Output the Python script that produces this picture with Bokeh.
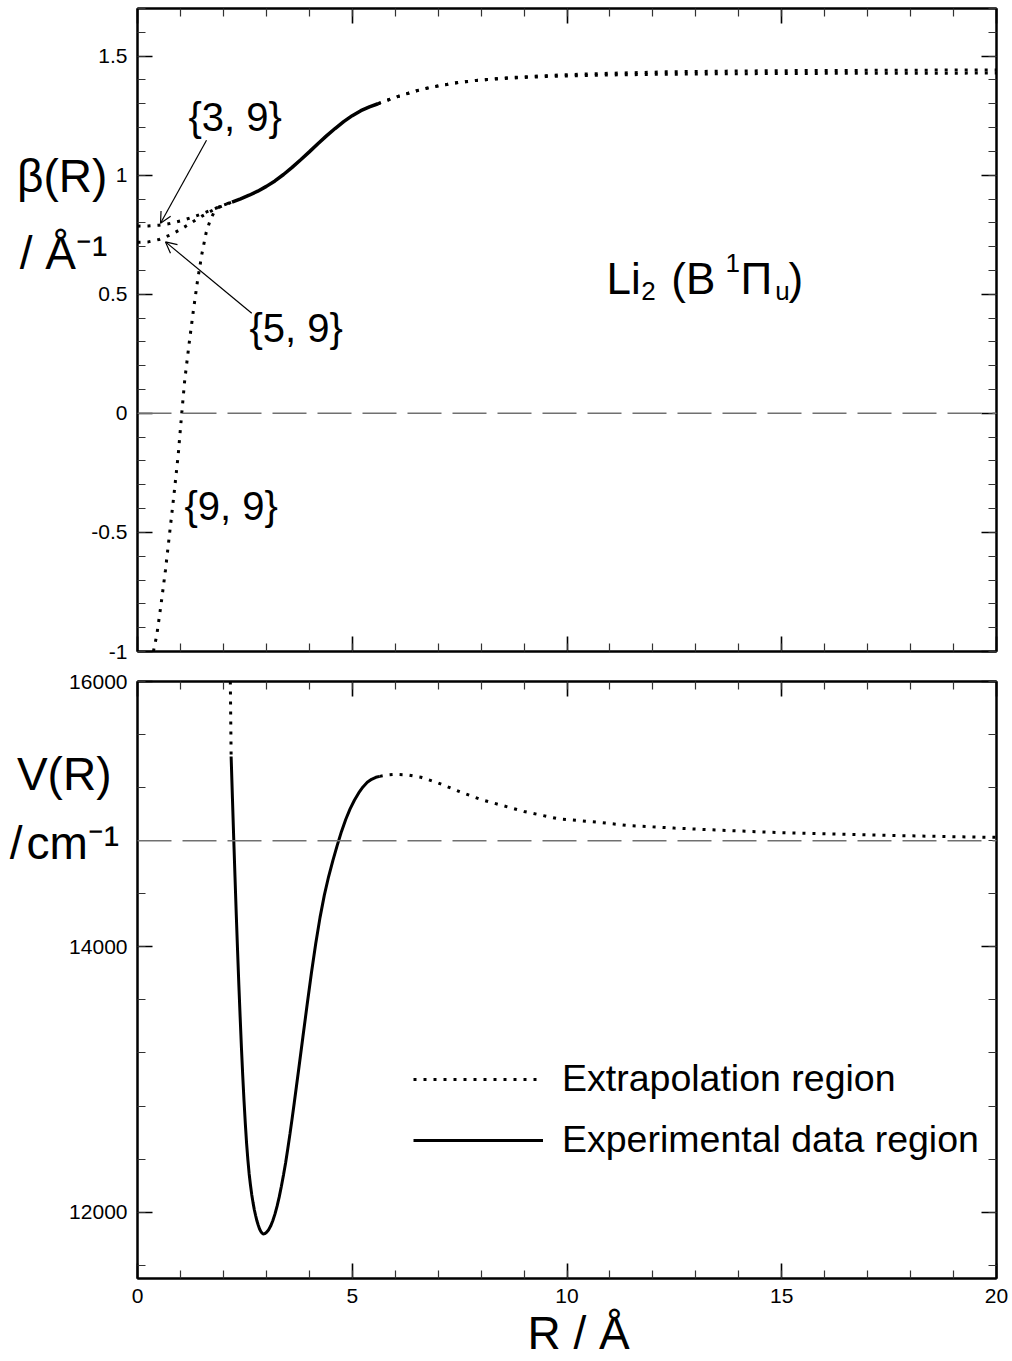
import numpy as np
from bokeh.plotting import figure
from bokeh.layouts import column
from bokeh.models import (Range1d, LinearAxis, FixedTicker, CustomJSTickFormatter,
                          CustomLabelingPolicy, Span, Label, Arrow, OpenHead,
                          Legend, LegendItem)
from bokeh.embed import file_html
from bokeh.resources import INLINE

FONT = "Liberation Sans"

# ---------------- beta(R) of the three MLR fits {p, q}  (1/Angstrom) ----------------
# short-range extrapolation of the {3,9} and {5,9} fits
R_in = [0.0, 0.25, 0.5, 0.75, 1.0, 1.25, 1.5, 1.75, 2.0, 2.2]
beta_39_in = [0.786, 0.787, 0.790, 0.797, 0.808, 0.822, 0.838, 0.856, 0.874, 0.887]
beta_59_in = [0.718, 0.720, 0.730, 0.748, 0.772, 0.800, 0.828, 0.853, 0.873, 0.887]
# short-range extrapolation of the {9,9} fit
R_99_in = [0.37, 0.45, 0.55, 0.65, 0.75, 0.85, 0.95, 1.03, 1.10, 1.20, 1.30,
           1.40, 1.50, 1.60, 1.70, 1.80, 1.90, 2.05, 2.20]
beta_99_in = [-1.00, -0.93, -0.80, -0.66, -0.50, -0.34, -0.17, 0.00, 0.14, 0.29, 0.43,
              0.56, 0.67, 0.76, 0.815, 0.85, 0.867, 0.879, 0.887]
# range sampled by the experimental data
R_exp = [2.2, 2.4, 2.6, 2.8, 3.0, 3.2, 3.4, 3.6, 3.8, 4.0, 4.2, 4.4, 4.6, 4.8, 5.0, 5.2, 5.4, 5.6]
beta_exp = [0.887, 0.901, 0.916, 0.933, 0.953, 0.976, 1.003, 1.033, 1.065, 1.098, 1.132,
            1.165, 1.196, 1.225, 1.250, 1.271, 1.287, 1.300]
# long-range extrapolation (the fits separate slightly at large R)
R_out = [5.6, 6.0, 6.6, 7.0, 7.5, 8.0, 8.7, 9.5, 10.0, 11.0, 12.3, 13.7, 15.0, 16.5, 18.0, 20.0]
beta_out_a = [1.300, 1.327, 1.360, 1.375, 1.390, 1.400, 1.410, 1.418, 1.422, 1.428,
              1.434, 1.437, 1.439, 1.440, 1.441, 1.442]
beta_out_b = [1.300, 1.327, 1.360, 1.375, 1.390, 1.400, 1.408, 1.414, 1.417, 1.421,
              1.424, 1.426, 1.427, 1.428, 1.428, 1.429]

# ---------------- potential energy curve V(R)  (cm^-1) ----------------
R_V_in = [2.155, 2.163, 2.171, 2.180]
V_in = [16150, 15950, 15700, 15435]
R_V_exp = [2.18, 2.21, 2.24, 2.27, 2.30, 2.33, 2.36, 2.39, 2.42, 2.45, 2.48, 2.51, 2.54,
           2.57, 2.60, 2.63, 2.66, 2.69, 2.72, 2.75, 2.78, 2.81, 2.84, 2.87, 2.90, 2.93,
           2.96, 3.00, 3.05, 3.10, 3.15, 3.20, 3.25, 3.30, 3.35, 3.40, 3.45, 3.50, 3.55,
           3.60, 3.65, 3.70, 3.75, 3.85, 3.95, 4.05, 4.15, 4.25, 4.35, 4.45, 4.55, 4.65,
           4.75, 4.85, 4.95, 5.05, 5.15, 5.25, 5.35, 5.45, 5.55, 5.64]
V_exp = [15435, 15125, 14820, 14528, 14241, 13970, 13710, 13470, 13239, 13030, 12840, 12670,
         12519, 12395, 12288, 12205, 12132, 12072, 12018, 11975, 11935, 11903, 11875, 11855,
         11842, 11835, 11838, 11847, 11866, 11895, 11935, 11985, 12045, 12115, 12195, 12282,
         12375, 12480, 12590, 12705, 12825, 12947, 13070, 13318, 13565, 13805, 14025, 14222,
         14390, 14530, 14652, 14765, 14870, 14962, 15040, 15105, 15160, 15205, 15240, 15263,
         15278, 15285]
R_V_out = [5.64, 5.8, 6.0, 6.3, 6.6, 7.0, 7.5, 8.0, 8.5, 9.0, 9.8, 10.7, 11.4, 12.5,
           13.5, 15.0, 16.5, 17.5, 19.0, 20.0]
V_out = [15285, 15295, 15300, 15295, 15278, 15235, 15170, 15110, 15065, 15020, 14965,
         14940, 14915, 14895, 14880, 14860, 14848, 14840, 14830, 14825]
V_asymptote = 14800

x_major = [0, 5, 10, 15, 20]
x_minor = list(range(0, 21))
beta_major = [-1, -0.5, 0, 0.5, 1, 1.5]
beta_minor = [round(-1 + 0.1 * i, 1) for i in range(28)]
V_major = [12000, 14000, 16000]
V_minor = list(range(11600, 16001, 400))

DOT = "3 7"


def style_axis(ax, ticker, show_labels):
    ax.ticker = ticker
    ax.axis_line_color = "black"
    ax.axis_line_width = 2
    ax.major_tick_in = 15
    ax.major_tick_out = 0
    ax.minor_tick_in = 8
    ax.minor_tick_out = 0
    ax.major_tick_line_color = "black"
    ax.major_tick_line_width = 1.6
    ax.minor_tick_line_color = "#333333"
    ax.minor_tick_line_width = 1.2
    ax.major_label_text_font = FONT
    ax.major_label_text_color = "black"
    ax.axis_label_text_font = FONT
    ax.axis_label_text_font_style = "normal"
    ax.axis_label_text_color = "black"
    if show_labels:
        ax.major_label_text_font_size = "21px"
        ax.major_label_standoff = 10
    else:
        # tick marks only on this side
        ax.major_label_text_font_size = "0px"
        ax.major_label_standoff = 0
        ax.major_label_policy = CustomLabelingPolicy(code="return []")


def make_panel(height, y_range, border_top, border_bottom, yticker, show_x_labels, yformatter=None):
    p = figure(width=1012, height=height, x_range=Range1d(0, 20), y_range=y_range,
               output_backend="svg", toolbar_location=None,
               min_border_left=137, min_border_right=16,
               min_border_top=border_top, min_border_bottom=border_bottom,
               background_fill_color="white", border_fill_color="white")
    p.grid.visible = False
    p.outline_line_color = "black"
    p.outline_line_width = 2
    bottom_axis = p.xaxis[0]
    left_axis = p.yaxis[0]
    style_axis(bottom_axis, FixedTicker(ticks=x_major, minor_ticks=x_minor), show_x_labels)
    style_axis(left_axis, yticker, True)
    if yformatter is not None:
        left_axis.formatter = yformatter
    top = LinearAxis()
    style_axis(top, FixedTicker(ticks=x_major, minor_ticks=x_minor), False)
    p.add_layout(top, "above")
    right = LinearAxis()
    style_axis(right, FixedTicker(ticks=yticker.ticks, minor_ticks=yticker.minor_ticks), False)
    p.add_layout(right, "right")
    return p, bottom_axis, left_axis


def label(p, text, x, y, size):
    p.add_layout(Label(x=x, y=y, text=text, text_font=FONT, text_font_size=size,
                       text_color="black", text_align="left", text_baseline="alphabetic"))


# ---------------- upper panel: beta(R) ----------------
p1, xa, ya = make_panel(666, Range1d(-1, 1.7), 8, 15,
                        FixedTicker(ticks=beta_major, minor_ticks=beta_minor), False,
                        CustomJSTickFormatter(code="return String(Math.round(tick * 10) / 10)"))

ya.axis_label = "\u03b2(R)\n/ \u00c5\u207b\u00b9\n\n\n"
ya.axis_label_orientation = "horizontal"
ya.axis_label_text_font_size = "46px"
ya.axis_label_text_line_height = 1.48
ya.axis_label_standoff = -19

p1.add_layout(Span(location=0, dimension="width", line_color="#707070",
                   line_width=1.5, line_dash="34 11"))

for xs, ys in [(R_in, beta_39_in), (R_in, beta_59_in), (R_99_in, beta_99_in),
               (R_out, beta_out_a), (R_out, beta_out_b)]:
    p1.line(xs, ys, line_color="black", line_width=3, line_dash=DOT)
p1.line(R_exp, beta_exp, line_color="black", line_width=3.5)

label(p1, "{3, 9}", 1.187, 1.244, "40px")
label(p1, "{5, 9}", 2.608, 0.357, "40px")
label(p1, "{9, 9}", 1.094, -0.391, "40px")
p1.add_layout(Arrow(end=OpenHead(size=11, line_width=1.2, line_color="black"),
                    x_start=1.607, y_start=1.147, x_end=0.536, y_end=0.798,
                    line_width=1.2, line_color="black"))
p1.add_layout(Arrow(end=OpenHead(size=11, line_width=1.2, line_color="black"),
                    x_start=2.66, y_start=0.42, x_end=0.652, y_end=0.72,
                    line_width=1.2, line_color="black"))

# molecule / state label: Li2 (B 1Pi_u)
label(p1, "Li", 10.92, 0.567, "44px")
label(p1, "2", 11.73, 0.513, "26px")
label(p1, "(B", 12.43, 0.567, "44px")
label(p1, "1", 13.69, 0.630, "26px")
label(p1, "\u03a0", 14.04, 0.567, "44px")
label(p1, "u", 14.85, 0.513, "26px")
label(p1, ")", 15.16, 0.567, "44px")

# ---------------- lower panel: V(R) ----------------
p2, xb, yb = make_panel(695, Range1d(11500, 16000), 15, 83,
                        FixedTicker(ticks=V_major, minor_ticks=V_minor), True)

yb.axis_label = "V(R)\u2006\n/\u200acm\u207b\u00b9\n\n\n\n\n"
yb.axis_label_orientation = "horizontal"
yb.axis_label_text_font_size = "46px"
yb.axis_label_text_line_height = 1.32
yb.axis_label_standoff = -53

xb.axis_label = "\u2002R / \u00c5"
xb.axis_label_text_font_size = "46px"
xb.axis_label_standoff = 1

p2.add_layout(Span(location=V_asymptote, dimension="width", line_color="#707070",
                   line_width=1.5, line_dash="34 11"))

r_dot = p2.line(R_V_out, V_out, line_color="black", line_width=3, line_dash=DOT)
p2.line(R_V_in, V_in, line_color="black", line_width=3, line_dash=DOT)
r_solid = p2.line(R_V_exp, V_exp, line_color="black", line_width=3)

legend = Legend(items=[LegendItem(label="Extrapolation region", renderers=[r_dot]),
                       LegendItem(label="Experimental data region", renderers=[r_solid])],
                location=(276, 117), glyph_width=130, glyph_height=36, label_height=36,
                label_standoff=19, spacing=18, padding=0, margin=0,
                border_line_color=None, background_fill_alpha=0,
                label_text_font=FONT, label_text_font_size="37.5px", label_text_color="black")
p2.add_layout(legend)

layout = column(p1, p2)
open("out.html", "w").write(file_html(layout, INLINE))
